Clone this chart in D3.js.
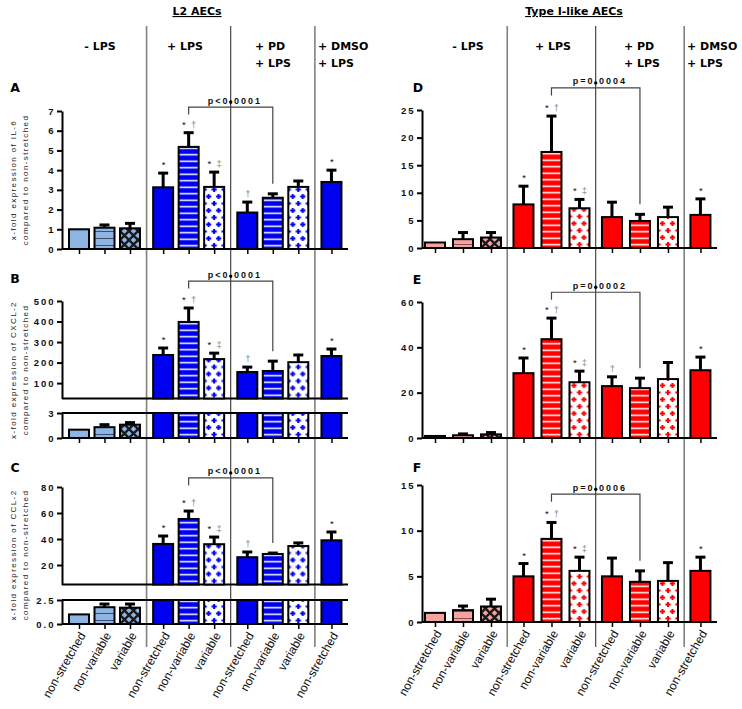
<!DOCTYPE html>
<html><head><meta charset="utf-8">
<script src="https://cdn.jsdelivr.net/npm/d3@7"></script>
<style>
body{margin:0;background:#fff;}
svg{display:block;}
</style></head><body>
<svg id="chart" width="742" height="709"></svg>
<script>
// ---------------- DATA ----------------
const categories = ["non-stretched","non-variable","variable","non-stretched","non-variable","variable","non-stretched","non-variable","variable","non-stretched"];
const groupOf = [0,0,0,1,1,1,2,2,2,3];
const groupLabels = [["- LPS"],["+ LPS"],["+ PD","+ LPS"],["+ DMSO","+ LPS"]];
const cellTitles = ["L2 AECs","Type I-like AECs"];

const il6L2Mean   = [1.0, 1.08, 1.05, 3.13, 5.18, 3.15, 1.85, 2.6, 3.15, 3.4];
const il6L2Sem    = [0, 0.14, 0.25, 0.72, 0.72, 0.75, 0.53, 0.2, 0.3, 0.6];
const cxcl2L2Mean = [1.0, 1.3, 1.6, 237, 398, 217, 154, 159, 202, 232];
const cxcl2L2Sem  = [0, 0.3, 0.25, 34, 68, 29, 24, 48, 35, 34];
const ccl2L2Mean  = [1.0, 1.75, 1.7, 36.2, 55.4, 36, 26, 28.5, 34.6, 39];
const ccl2L2Sem   = [0, 0.33, 0.38, 6.1, 6.1, 5.5, 4, 0.7, 2.4, 6.4];
const il6T1Mean   = [1.0, 1.6, 1.9, 7.9, 17.4, 7.2, 5.6, 4.9, 5.6, 6.0];
const il6T1Sem    = [0, 1.2, 0.9, 3.3, 6.5, 1.6, 2.7, 1.2, 1.8, 2.9];
const cxcl2T1Mean = [0.9, 1.2, 1.6, 28.6, 43.6, 24.6, 22.9, 22, 26, 29.9];
const cxcl2T1Sem  = [0, 0.6, 0.8, 6.7, 9.3, 4.9, 4.1, 4.4, 7.3, 5.8];
const ccl2T1Mean  = [1.0, 1.3, 1.7, 5.0, 9.1, 5.6, 5.0, 4.4, 4.5, 5.6];
const ccl2T1Sem   = [0, 0.45, 0.8, 1.4, 1.8, 1.5, 2.0, 1.2, 2.0, 1.5];

const marksA = ["","","","*","* †","* ‡","†","","","*"];
const marksB = ["","","","*","* †","* ‡","†","","","*"];
const marksC = ["","","","*","* †","* ‡","†","","","*"];
const marksD = ["","","","*","* †","* ‡","","","","*"];
const marksE = ["","","","*","* †","* ‡","†","","","*"];
const marksF = ["","","","*","* †","* ‡","","","","*"];

const pLabels = ["p<0.0001","p<0.0001","p<0.0001","p=0.0004","p=0.0002","p=0.0006"];
const pLevels = [7.2, 597, 87, 29, 64.3, 14];

const ticksA = [0,1,2,3,4,5,6,7];
const ticksBUpper = [100,200,300,400,500];
const ticksBLower = [0,3];
const ticksCUpper = [20,40,60,80];
const ticksCLower = [0,2.5];
const ticksD = [0,5,10,15,20,25];
const ticksE = [0,20,40,60];
const ticksF = [0,5,10,15];

const yTitles = {
  A:["x-fold expression of IL-6","compared to non-stretched"],
  B:["x-fold expression of CXCL-2","compared to non-stretched"],
  C:["x-fold expression of CCL-2","compared to non-stretched"]
};

// ---------------- LAYOUT ----------------
const svg = d3.select("#chart");
const defs = svg.append("defs");
const FONT_AX = "'Liberation Sans', Arial, sans-serif";
const FONT_HD = "'DejaVu Sans', Verdana, sans-serif";
const barW = 20;

const colors = {
  blue:{light:"#8DB4E2", dark:"#0000F0", lightLine:"#2a3550", hatch:"#1a1a1a"},
  red:{light:"#F4A3A3", dark:"#FF0000", lightLine:"#6a3a3a", hatch:"#1a1a1a"}
};

function makePatterns(name){
  const c = colors[name];
  let p = defs.append("pattern").attr("id",name+"-light-lines").attr("patternUnits","userSpaceOnUse").attr("width",10).attr("height",7);
  p.append("rect").attr("width",10).attr("height",7).attr("fill",c.light);
  p.append("rect").attr("y",3).attr("width",10).attr("height",1).attr("fill",c.lightLine).attr("opacity",0.8);
  p = defs.append("pattern").attr("id",name+"-light-dots").attr("patternUnits","userSpaceOnUse").attr("width",9).attr("height",9);
  p.append("rect").attr("width",9).attr("height",9).attr("fill",c.light);
  p.append("path").attr("d","M0,0L9,9M9,0L0,9").attr("stroke",c.hatch).attr("stroke-width",2.4);
  p = defs.append("pattern").attr("id",name+"-dark-lines").attr("patternUnits","userSpaceOnUse").attr("width",10).attr("height",6.5);
  p.append("rect").attr("width",10).attr("height",6.5).attr("fill",c.dark);
  p.append("rect").attr("y",2.5).attr("width",10).attr("height",1.5).attr("fill","#fff");
  p = defs.append("pattern").attr("id",name+"-dark-dots").attr("patternUnits","userSpaceOnUse").attr("width",10).attr("height",14);
  p.append("rect").attr("width",10).attr("height",14).attr("fill","#fff");
  const plus = "h2v1.6h1.6v2h-1.6v1.6h-2v-1.6h-1.6v-2h1.6z";
  [[4.5,3.5],[0,10.5],[10,10.5]].forEach(([x,y])=>{
    p.append("path").attr("d",`M${x-1},${y-2.6}`+plus).attr("fill",c.dark);
  });
}
makePatterns("blue"); makePatterns("red");

function fillFor(pal,i){
  const tone = groupOf[i]===0 ? "light" : "dark";
  const cat = categories[i];
  if(cat==="non-stretched") return colors[pal][tone];
  return `url(#${pal}-${tone}-${cat==="non-variable"?"lines":"dots"})`;
}

const sides = {
  left:{x0:79, step:25.5, gap:0.3, axisX:62, axisEnd:348, pal:"blue", titleX:197,
        headerX:[100,185,255,318], headerAnchor:["middle","middle","start","start"]},
  right:{x0:435, step:28, gap:0.16, axisX:422, axisEnd:717, pal:"red", titleX:574,
        headerX:[468,553,624,687], headerAnchor:["middle","middle","start","start"]}
};
Object.values(sides).forEach(s=>{
  const n = 9 + 3*s.gap;
  s.x = d3.scaleLinear().domain([0,n]).range([s.x0, s.x0 + n*s.step]);
  s.slot = i => i + s.gap*groupOf[i];
  s.cx = i => s.x(s.slot(i));
  s.seps = [0,1,2].map(k=>{
    const a = categories.findLastIndex((c,i)=>groupOf[i]===k);
    return (s.cx(a)+s.cx(a+1))/2;
  });
});

const sepStyles = [{c:"#808080",w:1.6},{c:"#222",w:1},{c:"#808080",w:1.6}];

[["left",0],["right",1]].forEach(([k,ti])=>{
  const s = sides[k];
  s.seps.forEach((x,j)=>{
    svg.append("line").attr("x1",x).attr("x2",x).attr("y1",26).attr("y2",647)
      .attr("stroke",sepStyles[j].c).attr("stroke-width",sepStyles[j].w);
  });
  svg.append("text").attr("x",s.titleX).attr("y",15).attr("text-anchor","middle")
    .attr("font-family",FONT_HD).attr("font-weight","bold").attr("font-size","11px")
    .style("text-decoration","underline").text(cellTitles[ti]);
  groupLabels.forEach((lines,g)=>{
    lines.forEach((t,li)=>{
      svg.append("text").attr("x",s.headerX[g]).attr("y",50+li*17).attr("text-anchor",s.headerAnchor[g])
        .attr("font-family",FONT_HD).attr("font-weight","bold").attr("font-size","11px").text(t);
    });
  });
});

const panels = [
  {id:"A", side:"left", mean:il6L2Mean, sem:il6L2Sem, marks:marksA, p:0, letter:[15,92], titleY:180,
   segs:[{domain:[0,7], range:[249,111], ticks:ticksA, fmt:d3.format("d")}]},
  {id:"B", side:"left", mean:cxcl2L2Mean, sem:cxcl2L2Sem, marks:marksB, p:1, letter:[15,283], titleY:370,
   segs:[{domain:[25,500], range:[398.5,301], ticks:ticksBUpper, fmt:d3.format("d")},
         {domain:[0,3], range:[438,413], ticks:ticksBLower, fmt:d3.format("d")}]},
  {id:"C", side:"left", mean:ccl2L2Mean, sem:ccl2L2Sem, marks:marksC, p:2, letter:[15,472], titleY:555, labels:true,
   segs:[{domain:[5,80], range:[584.5,487], ticks:ticksCUpper, fmt:d3.format("d")},
         {domain:[0,2.5], range:[624,600], ticks:ticksCLower, fmt:d3.format(".1f")}]},
  {id:"D", side:"right", mean:il6T1Mean, sem:il6T1Sem, marks:marksD, p:3, letter:[418,92],
   segs:[{domain:[0,25], range:[248,110], ticks:ticksD, fmt:d3.format("d")}]},
  {id:"E", side:"right", mean:cxcl2T1Mean, sem:cxcl2T1Sem, marks:marksE, p:4, letter:[417,284],
   segs:[{domain:[0,60], range:[438,302], ticks:ticksE, fmt:d3.format("d")}]},
  {id:"F", side:"right", mean:ccl2T1Mean, sem:ccl2T1Sem, marks:marksF, p:5, letter:[417,472], labels:true,
   segs:[{domain:[0,15], range:[622,485], ticks:ticksF, fmt:d3.format("d")}]}
];

function drawPanel(P){
  const s = sides[P.side];
  const g = svg.append("g");
  const segs = P.segs.map(sg=>({...sg, y:d3.scaleLinear().domain(sg.domain).range(sg.range)}));
  const last = segs[segs.length-1];

  g.append("text").attr("x",P.letter[0]).attr("y",P.letter[1]).attr("text-anchor","middle")
    .attr("font-family",FONT_HD).attr("font-weight","bold").attr("font-size","12.5px").text(P.id);

  if(yTitles[P.id]){
    yTitles[P.id].forEach((t,li)=>{
      g.append("text").attr("transform",`translate(${16+li*12},${P.titleY}) rotate(-90)`)
        .attr("text-anchor","middle").attr("font-family",FONT_AX).attr("font-size","8px")
        .attr("letter-spacing","1.4px").attr("fill","#222").text(t);
    });
  }

  segs.forEach((sg,k)=>{
    g.append("line").attr("x1",s.axisX).attr("x2",s.axisEnd).attr("y1",sg.range[0]).attr("y2",sg.range[0])
      .attr("stroke","#000").attr("stroke-width",2);
    if(k>0){
      g.append("line").attr("x1",s.axisX).attr("x2",s.axisEnd).attr("y1",sg.range[1]).attr("y2",sg.range[1])
        .attr("stroke","#000").attr("stroke-width",2);
    }
  });

  const errTops = [];
  P.mean.forEach((m,i)=>{
    const cx = s.cx(i);
    segs.forEach(sg=>{
      const lo = sg.domain[0], hi = sg.domain[1];
      if(m<=lo) return;
      const top = Math.min(m,hi);
      const y0 = sg.y(lo), y1 = sg.y(top);
      const bg = g.append("g").attr("transform",`translate(${cx-barW/2},${y0})`);
      bg.append("rect").attr("x",0).attr("y",y1-y0).attr("width",barW).attr("height",y0-y1)
        .attr("fill",fillFor(s.pal,i)).attr("stroke","#000").attr("stroke-width",2);
    });
    const sg = segs.find(q=>m>=q.domain[0]&&m<=q.domain[1]) || segs[0];
    const yT = sg.y(m), yE = sg.y(m+P.sem[i]);
    if(P.sem[i]>0){
      g.append("line").attr("x1",cx).attr("x2",cx).attr("y1",yT).attr("y2",yE).attr("stroke","#000").attr("stroke-width",3);
      g.append("line").attr("x1",cx-5).attr("x2",cx+5).attr("y1",yE).attr("y2",yE).attr("stroke","#000").attr("stroke-width",3);
    }
    errTops.push(yE);
    const mk = P.marks[i];
    if(mk){
      const parts = mk.split(" ");
      const t = g.append("text").attr("x",cx+0.5).attr("y",yE-5).attr("text-anchor","middle")
        .attr("font-family",FONT_AX).attr("font-size","9.5px");
      parts.forEach((ch,j)=>{
        const ts = t.append("tspan").attr("fill", ch==="*"?"#111":"#888").text((j>0?" ":"")+ch);
        if(j>0) ts.attr("dx",2.5);
      });
    }
  });

  segs.forEach(sg=>{
    const ax = g.append("g").attr("transform",`translate(${s.axisX},0)`)
      .call(d3.axisLeft(sg.y).tickValues(sg.ticks).tickFormat(sg.fmt).tickSize(5).tickSizeOuter(0).tickPadding(1.5));
    ax.select(".domain").attr("stroke","#000").attr("stroke-width",2);
    ax.selectAll(".tick line").attr("stroke","#000").attr("stroke-width",2);
    ax.selectAll(".tick text").attr("font-family",FONT_AX).attr("font-weight","bold")
      .attr("font-size","9.5px").attr("letter-spacing","2px").attr("fill","#111");
  });

  const xa = g.append("g").attr("transform",`translate(0,${last.range[0]})`)
    .call(d3.axisBottom(s.x).tickValues(categories.map((c,i)=>s.slot(i)))
      .tickFormat((d,i)=>P.labels?categories[i]:"").tickSize(5).tickSizeOuter(0));
  xa.select(".domain").remove();
  xa.selectAll(".tick line").attr("stroke","#000").attr("stroke-width",1.5);
  xa.selectAll(".tick text").attr("font-family",FONT_AX).attr("font-size","12px").attr("fill","#111")
    .attr("text-anchor","end").attr("x",0).attr("y",0).attr("dy","0.35em")
    .attr("transform","translate(3,9) rotate(-60)");

  const top = segs[0];
  const by = top.y(pLevels[P.p]);
  const xl = s.cx(4), xr = s.cx(7);
  g.append("path").attr("d",`M${xl},${by+7.5}V${by}H${xr}V${errTops[7]-10}`)
    .attr("fill","none").attr("stroke","#444").attr("stroke-width",1.2);
  const lbl = pLabels[P.p];
  const t = g.append("text").attr("x",0).attr("y",by-3.5).attr("font-family",FONT_AX)
    .attr("font-weight","bold").attr("font-size","9px").attr("letter-spacing","2px").attr("fill","#111").text(lbl);
  const sepX = s.seps[1];
  const idx = lbl.indexOf(".");
  const ext = t.node().getExtentOfChar(idx);
  const dotC = ext.x + (ext.width-2)/2;
  t.attr("x", sepX - dotC);
  g.append("circle").attr("cx",sepX).attr("cy",by-5).attr("r",1.7).attr("fill","#000");
}
panels.forEach(drawPanel);
</script>
</body></html>
